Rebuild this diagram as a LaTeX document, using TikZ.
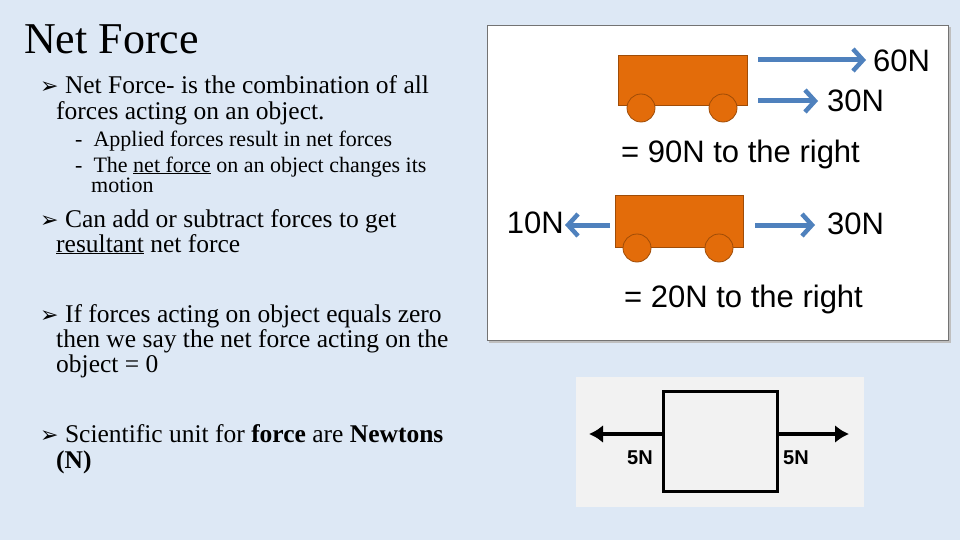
\documentclass[tikz,border=0pt]{standalone}
\usepackage{fontspec}
\setmainfont{Liberation Serif}
\newfontfamily\arial{Liberation Sans}
\newfontfamily\dingf{DejaVu Sans}
\usetikzlibrary{arrows.meta}
\definecolor{bg}{HTML}{DDE8F5}
\definecolor{cart}{HTML}{E36C0A}
\definecolor{barrow}{HTML}{4F81BD}
\definecolor{panelgray}{HTML}{F2F2F2}
\tikzset{
  txt/.style={anchor=base west,inner sep=0pt,font=\fontsize{25.5}{27}\selectfont},
  subtxt/.style={anchor=base west,inner sep=0pt,font=\fontsize{22}{24}\selectfont},
  lbl/.style={inner sep=0pt,font=\arial\fontsize{31}{33}\selectfont},
  blue arrow/.style={draw=barrow,line width=5pt,-{Straight Barb[length=10pt,width=22pt,line width=4.5pt]}},
  cartbody/.style={fill=cart,draw=cart!70!black,line width=0.8pt},
  blk arrow/.style={draw=black,line width=4pt,-{Latex[length=14pt,width=18pt]}},
}
\newcommand{\bul}{{\dingf\fontsize{22}{24}\selectfont ➢}}
\begin{document}
\begin{tikzpicture}[x=1pt,y=-1pt]
\fill[bg] (0,0) rectangle (960,540);
\useasboundingbox (0,0) rectangle (960,540);
% title
\node[anchor=base west,inner sep=0pt,font=\fontsize{44}{46}\selectfont] (title) at (24,54) {Net Force};
\node[txt] (b1) at (40,94) {\bul\ Net Force- is the combination of all};
\node[txt] (b1b) at (56,120) {forces acting on an object.};
\node[subtxt] (s1) at (75,147) {-\ \ Applied forces result in net forces};
\node[subtxt] (s2) at (75,172) {-\ \ The \underline{net force} on an object changes its};
\node[subtxt] (s2b) at (91,193) {motion};
\node[txt] (b2) at (40,227) {\bul\ Can add or subtract forces to get};
\node[txt] (b2b) at (56,252) {\underline{resultant} net force};
\node[txt] (b3) at (40,322) {\bul\ If forces acting on object equals zero};
\node[txt] (b3b) at (56,347) {then we say the net force acting on the};
\node[txt] (b3c) at (56,372) {object = 0};
\node[txt] (b4) at (40,442) {\bul\ Scientific unit for \textbf{force} are \textbf{Newtons}};
\node[txt] (b4b) at (56,468) {\textbf{(N)}};
% right panel
\fill[black!25] (489,27) rectangle (951,343);
\draw[fill=white,draw=black!55,line width=0.8pt] (487,25) rectangle (948,340);
% cart 1
\draw[cartbody] (618,55) rectangle (747,105);
\draw[cartbody] (641,108) circle (14);
\draw[cartbody] (723,108) circle (14);
\coordinate (a1s) at (758,60); \coordinate (a1e) at (866,60);
\draw[blue arrow] (a1s) -- (a1e);
\node[lbl,anchor=west] (l60) at (873,61) {60N};
\coordinate (a2s) at (758,101); \coordinate (a2e) at (818,101);
\draw[blue arrow] (a2s) -- (a2e);
\node[lbl,anchor=west] (l30a) at (827,101) {30N};
\node[lbl,anchor=west] (r1) at (621,154) {= 90N to the right};
% cart 2
\draw[cartbody] (615,195) rectangle (743,247);
\draw[cartbody] (637,248) circle (14);
\draw[cartbody] (719,248) circle (14);
\coordinate (a3s) at (610,225); \coordinate (a3e) at (565,225);
\draw[blue arrow] (a3s) -- (a3e);
\node[lbl,anchor=east] (l10) at (564,223) {10N};
\coordinate (a4s) at (755,225); \coordinate (a4e) at (815,225);
\draw[blue arrow] (a4s) -- (a4e);
\node[lbl,anchor=west] (l30b) at (827,224) {30N};
\node[lbl,anchor=west] (r2) at (624,299) {= 20N to the right};
% bottom image
\fill[panelgray] (576,377) rectangle (864,507);
\draw[line width=3pt] (663,391) rectangle (777,491);
\coordinate (b5s) at (663,434); \coordinate (b5e) at (589,434);
\coordinate (b6s) at (777,434); \coordinate (b6e) at (849,434);
\draw[blk arrow] (b5s) -- (b5e);
\draw[blk arrow] (b6s) -- (b6e);
\node[inner sep=0pt,font=\arial\bfseries\fontsize{20}{21}\selectfont] (n5a) at (640,458) {5N};
\node[inner sep=0pt,font=\arial\bfseries\fontsize{20}{21}\selectfont] (n5b) at (796,458) {5N};
\end{tikzpicture}
\end{document}
